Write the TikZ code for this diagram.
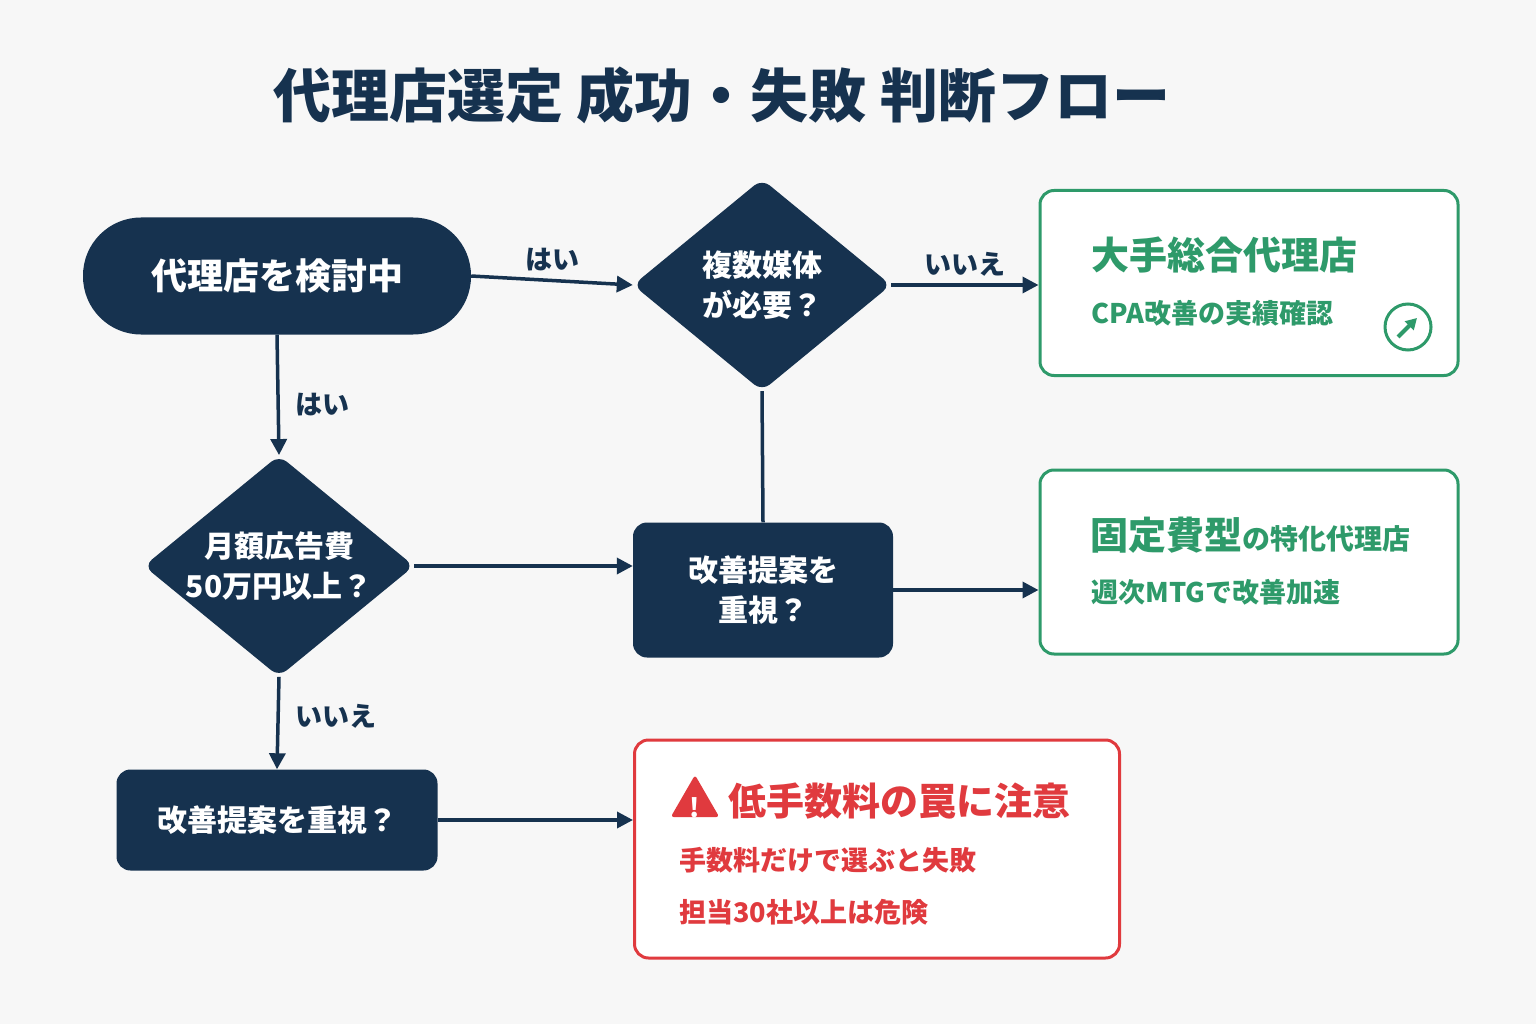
\documentclass[tikz,border=0pt]{standalone}
\usepackage{fontspec}
\setmainfont{Noto Sans CJK JP}
\usetikzlibrary{shapes.geometric,arrows.meta}
\definecolor{navycol}{HTML}{16324F}
\definecolor{greencol}{HTML}{2E9A6A}
\definecolor{redcol}{HTML}{E03A3E}
\definecolor{bgcol}{HTML}{F7F7F7}
\tikzset{
  dark/.style={fill=navycol,text=white,font=\bfseries\fontsize{30}{40}\selectfont,align=center,inner sep=0pt},
  decision/.style={dark,diamond,rounded corners=10pt,aspect=1.22,minimum width=258pt,minimum height=212pt},
  stepbox/.style={dark,rectangle,rounded corners=14pt},
  result/.style={draw=#1,line width=3pt,fill=white,rounded corners=14pt,inner sep=0pt},
  flow/.style={navycol,line width=3.5pt,-{Triangle[length=16pt,width=16pt]}},
  answer/.style={text=navycol,font=\bfseries\fontsize{27}{30}\selectfont,anchor=west},
  big/.style={font=\bfseries\fontsize{38}{44}\selectfont,anchor=west},
  small/.style={font=\bfseries\fontsize{27}{32}\selectfont,anchor=west}
}
\begin{document}
\begin{tikzpicture}[x=1pt,y=-1pt]
\fill[bgcol] (0,0) rectangle (1536,1024);
\useasboundingbox (0,0) rectangle (1536,1024);
% title
\node[text=navycol,font=\bfseries\fontsize{58}{64}\selectfont] (title) at (722,95) {代理店選定 成功・失敗 判断フロー};
% left column
\node[stepbox,rounded corners=58pt,minimum width=388pt,minimum height=117pt,font=\bfseries\fontsize{36}{40}\selectfont] (start) at (277,276) {代理店を検討中};
\node[decision] (budget) at (279,566) {月額広告費\\50万円以上？};
\node[stepbox,minimum width=321pt,minimum height=101pt] (propL) at (277,820) {改善提案を重視？};
% middle column
\node[decision] (media) at (762,285) {複数媒体\\が必要？};
\node[stepbox,minimum width=260pt,minimum height=135pt] (propM) at (763,590) {改善提案を\\重視？};
% results
\node[result=greencol,minimum width=418pt,minimum height=185pt] (big) at (1249,283) {};
\node[big,text=greencol] (bigT) at (1088,255) {大手総合代理店};
\node[small,text=greencol] (bigS) at (1088,313) {CPA改善の実績確認};
\node[circle,draw=greencol,line width=3pt,minimum size=46pt] (icon) at (1408,327) {};
\draw[greencol,line width=4pt,-{Triangle[length=11pt,width=12pt]}] ([shift={(-10pt,-10pt)}]icon.center) -- ([shift={(9pt,9pt)}]icon.center);
\node[result=greencol,minimum width=418pt,minimum height=184pt] (fixed) at (1249,562) {};
\node[anchor=west,text=greencol,inner sep=0pt] (fixedT) at (1090,535) {{\bfseries\fontsize{38}{44}\selectfont 固定費型}{\bfseries\fontsize{28}{32}\selectfont の特化代理店}};
\node[small,text=greencol] (fixedS) at (1088,592) {週次MTGで改善加速};
\node[result=redcol,minimum width=485pt,minimum height=218pt] (warn) at (877,849) {};
\node[regular polygon,regular polygon sides=3,fill=redcol,rounded corners=3pt,minimum size=56pt,inner sep=0pt] (tri) at (695,803) {};
\node[text=white,font=\bfseries\fontsize{26}{26}\selectfont] (excl) at (695,808) {!};
\node[big,text=redcol] (warnT) at (725,801) {低手数料の罠に注意};
\node[small,text=redcol] (warnA) at (676,860) {手数料だけで選ぶと失敗};
\node[small,text=redcol] (warnB) at (676,912) {担当30社以上は危険};
% connectors
\draw[flow] (start.east) -- (media.west) node[answer,midway,above=4pt,anchor=south] {はい};
\draw[flow] (media.east) -- (big.west |- media.east) node[answer,midway,above=4pt,anchor=south] {いいえ};
\draw[navycol,line width=3.5pt] (media.south) -- (propM.north);
\draw[flow] (propM.east) -- (fixed.west |- propM.east);
\draw[flow] (start.south) -- (budget.north);
\node[answer] (yesL) at (292,405) {はい};
\draw[flow] (budget.east) -- (propM.west |- budget.east);
\draw[flow] (budget.south) -- (propL.north);
\node[answer] (noL) at (292,716) {いいえ};
\draw[flow] (propL.east) -- (warn.west |- propL.east);
\end{tikzpicture}
\end{document}
